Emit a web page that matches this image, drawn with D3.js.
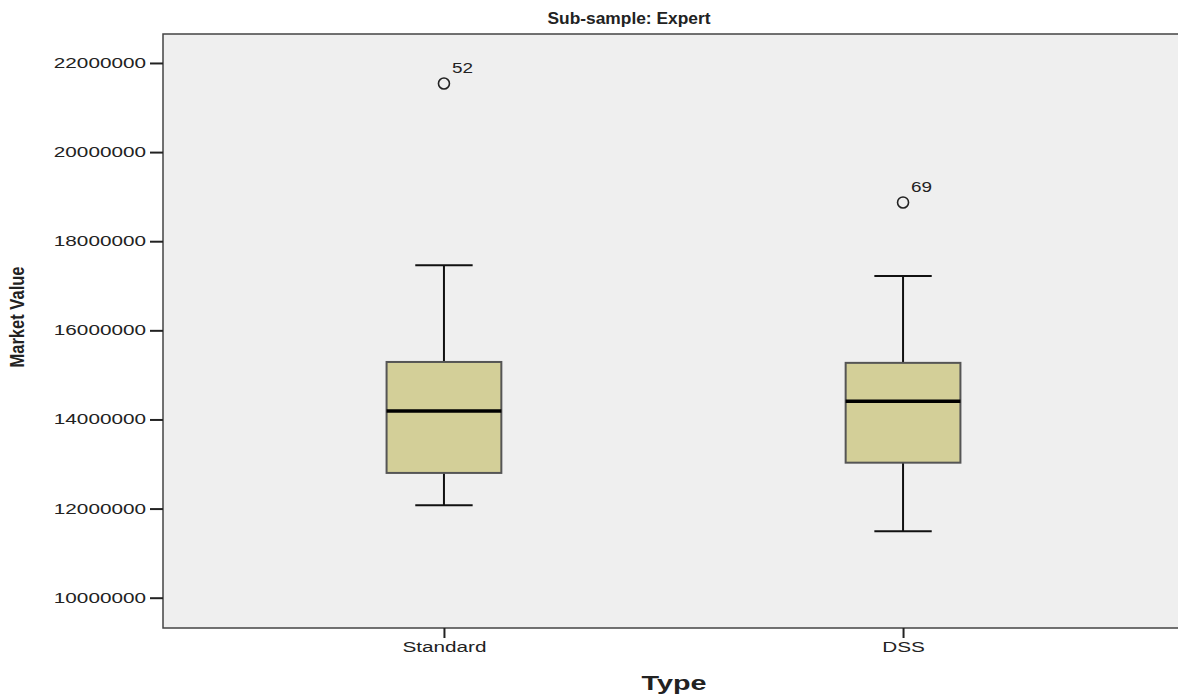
<!DOCTYPE html>
<html>
<head>
<meta charset="utf-8">
<script src="https://cdn.jsdelivr.net/npm/d3@7"></script>
<style>
  body { margin: 0; background: #fff; }
  text { font-family: "Liberation Sans", Arial, sans-serif; fill: #222; }
</style>
</head>
<body>
<div id="chart"></div>
<script>
// box plot data
const categories = ["Standard", "DSS"];
const whiskerLow = [12075000, 11490000];
const q1 = [12800000, 13030000];
const median = [14190000, 14410000];
const q3 = [15290000, 15270000];
const whiskerHigh = [17460000, 17220000];
const outlierValues = [21540000, 18870000];
const outlierIds = ["52", "69"];
const yTicks = [10000000, 12000000, 14000000, 16000000, 18000000, 20000000, 22000000];

const width = 1178, height = 696;
// plot runs past the right edge of the picture
const margin = {top: 34, right: -6, bottom: 68, left: 163};

const svg = d3.select("#chart").append("svg")
    .attr("width", width)
    .attr("height", height);

// helper: the original text is drawn wide, stretch glyphs horizontally
function stretch(sel, factor) {
    sel.each(function () {
        const w = this.getComputedTextLength();
        d3.select(this).attr("textLength", w * factor).attr("lengthAdjust", "spacingAndGlyphs");
    });
}

const x = d3.scalePoint()
    .domain(categories)
    .range([margin.left, width - margin.right])
    .padding(0.612);

const y = d3.scaleLinear()
    .domain([9320000, 22650000])
    .range([height - margin.bottom, margin.top]);

// plot background
svg.append("rect")
    .attr("x", margin.left)
    .attr("y", margin.top)
    .attr("width", width - margin.right - margin.left + 10)
    .attr("height", height - margin.bottom - margin.top)
    .attr("fill", "#efefef")
    .attr("stroke", "#444")
    .attr("stroke-width", 1.5);

// axes
const yAxis = d3.axisLeft(y).tickValues(yTicks).tickSize(13).tickPadding(4).tickFormat(d3.format("d"));
const yG = svg.append("g")
    .attr("transform", `translate(${margin.left},0)`)
    .call(yAxis);
yG.select(".domain").remove();
yG.selectAll(".tick line").attr("stroke", "#222").attr("stroke-width", 2);
yG.selectAll(".tick text").attr("font-size", 14).attr("fill", "#222")
    .style("font-family", "'Liberation Sans', Arial, sans-serif");
stretch(yG.selectAll(".tick text"), 1.48);

const xAxis = d3.axisBottom(x).tickSize(10).tickPadding(4);
const xG = svg.append("g")
    .attr("transform", `translate(0,${height - margin.bottom})`)
    .call(xAxis);
xG.select(".domain").remove();
xG.selectAll(".tick line").attr("stroke", "#222").attr("stroke-width", 2);
xG.selectAll(".tick text").attr("font-size", 14).attr("fill", "#222")
    .style("font-family", "'Liberation Sans', Arial, sans-serif");
stretch(xG.selectAll(".tick text"), 1.48);

// boxes
const boxW = x.step() * 0.25;
const capW = boxW / 2;

const boxes = svg.selectAll(".box")
    .data(categories)
    .enter()
    .append("g")
    .attr("class", "box");

boxes.append("line")
    .attr("x1", d => x(d)).attr("x2", d => x(d))
    .attr("y1", (d, i) => y(whiskerHigh[i]))
    .attr("y2", (d, i) => y(q3[i]))
    .attr("stroke", "#111").attr("stroke-width", 2);

boxes.append("line")
    .attr("x1", d => x(d)).attr("x2", d => x(d))
    .attr("y1", (d, i) => y(q1[i]))
    .attr("y2", (d, i) => y(whiskerLow[i]))
    .attr("stroke", "#111").attr("stroke-width", 2);

boxes.append("line")
    .attr("x1", d => x(d) - capW / 2).attr("x2", d => x(d) + capW / 2)
    .attr("y1", (d, i) => y(whiskerHigh[i]))
    .attr("y2", (d, i) => y(whiskerHigh[i]))
    .attr("stroke", "#111").attr("stroke-width", 2);

boxes.append("line")
    .attr("x1", d => x(d) - capW / 2).attr("x2", d => x(d) + capW / 2)
    .attr("y1", (d, i) => y(whiskerLow[i]))
    .attr("y2", (d, i) => y(whiskerLow[i]))
    .attr("stroke", "#111").attr("stroke-width", 2);

boxes.append("rect")
    .attr("x", d => x(d) - boxW / 2)
    .attr("y", (d, i) => y(q3[i]))
    .attr("width", boxW)
    .attr("height", (d, i) => y(q1[i]) - y(q3[i]))
    .attr("fill", "#d3cf98")
    .attr("stroke", "#555")
    .attr("stroke-width", 2);

boxes.append("line")
    .attr("x1", d => x(d) - boxW / 2).attr("x2", d => x(d) + boxW / 2)
    .attr("y1", (d, i) => y(median[i]))
    .attr("y2", (d, i) => y(median[i]))
    .attr("stroke", "#000").attr("stroke-width", 3.5);

// outliers
boxes.append("circle")
    .attr("cx", d => x(d))
    .attr("cy", (d, i) => y(outlierValues[i]))
    .attr("r", 5.5)
    .attr("fill", "none")
    .attr("stroke", "#222")
    .attr("stroke-width", 1.6);

boxes.append("text")
    .attr("x", d => x(d) + 8)
    .attr("y", (d, i) => y(outlierValues[i]) - 10)
    .attr("font-size", 14)
    .text((d, i) => outlierIds[i]);
stretch(boxes.selectAll("text"), 1.35);

// titles
svg.append("text")
    .attr("x", 629)
    .attr("y", 24)
    .attr("text-anchor", "middle")
    .attr("font-size", 17)
    .attr("font-weight", "bold")
    .attr("fill", "#111")
    .attr("textLength", 163)
    .attr("lengthAdjust", "spacingAndGlyphs")
    .text("Sub-sample: Expert");

svg.append("text")
    .attr("transform", "translate(24,317) rotate(-90)")
    .attr("text-anchor", "middle")
    .attr("font-size", 20)
    .attr("font-weight", "bold")
    .attr("fill", "#111")
    .attr("textLength", 101)
    .attr("lengthAdjust", "spacingAndGlyphs")
    .text("Market Value");

svg.append("text")
    .attr("x", 674)
    .attr("y", 690)
    .attr("text-anchor", "middle")
    .attr("font-size", 20)
    .attr("font-weight", "bold")
    .attr("fill", "#111")
    .attr("textLength", 65)
    .attr("lengthAdjust", "spacingAndGlyphs")
    .text("Type");
</script>
</body>
</html>
